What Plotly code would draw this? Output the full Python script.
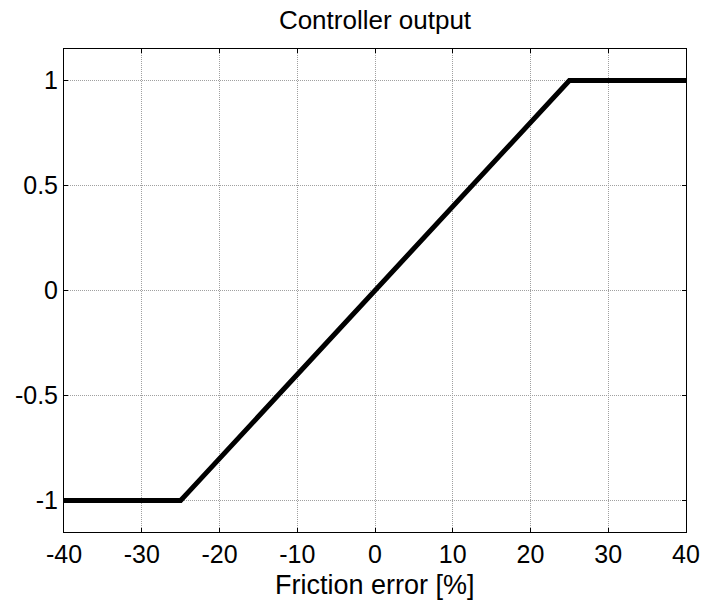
import plotly.graph_objs as go

# friction error [%] and controller output
friction_error = [-40, -25, -24, -22, -20, -15, -10, -5, 0, 5, 10, 15, 20, 22, 24, 25, 40]
controller_output = [-1, -1, -0.96, -0.88, -0.8, -0.6, -0.4, -0.2, 0, 0.2, 0.4, 0.6, 0.8, 0.88, 0.96, 1, 1]

x_ticks = [-40, -30, -20, -10, 0, 10, 20, 30, 40]
x_tick_labels = ['-40', '-30', '-20', '-10', '0', '10', '20', '30', '40']
y_ticks = [-1, -0.5, 0, 0.5, 1]
y_tick_labels = ['-1', '-0.5', '0', '0.5', '1']

font_family = 'Arial, Liberation Sans, sans-serif'

# start inside the default 8px body margin, then drop the margin and grow to the full window
fig_w, fig_h = 686, 587
full_w, full_h = 702, 603

fig = go.Figure()
fig.add_trace(go.Scatter(x=friction_error, y=controller_output, mode='lines',
                         line={"color": "black", "width": 5}, showlegend=False))

axis_style = dict(showline=True, linecolor='black', linewidth=1, mirror='ticks',
                  ticks='inside', ticklen=4, tickcolor='black',
                  showgrid=True, gridcolor='#a0a0a0', griddash='1px,1px', gridwidth=1,
                  zeroline=False, ticklabeloverflow='allow', automargin=False,
                  tickfont={"size": 25, "color": "black", "family": font_family})

fig.update_layout(
    width=fig_w, height=fig_h,
    margin={"l": 64, "r": 16, "t": 49, "b": 71},
    paper_bgcolor='white', plot_bgcolor='white',
    font={"family": font_family, "color": "black"},
    title={"text": "Controller output", "x": 0.5, "xref": "paper", "automargin": False,
           "y": 1 - 20 / full_h, "yref": "container", "yanchor": "middle",
           "font": {"size": 26, "color": "black", "family": font_family}},
    xaxis=dict(range=[-40, 40], tickvals=x_ticks, ticktext=x_tick_labels, **axis_style),
    yaxis=dict(range=[-1.15, 1.15], tickvals=y_ticks, ticktext=y_tick_labels, **axis_style),
    annotations=[dict(text="Friction error [%]", x=0.5, xref='paper', y=-(585 - 532) / 483,
                      yref='paper', yanchor='middle', showarrow=False,
                      font={"size": 27, "color": "black", "family": font_family})],
)

post = ("document.body.style.margin = '0';"
        "Plotly.relayout('{plot_id}', {width: %d, height: %d});" % (full_w, full_h))
fig.write_html("out.html", config={"displayModeBar": False, "responsive": False},
               post_script=post)
